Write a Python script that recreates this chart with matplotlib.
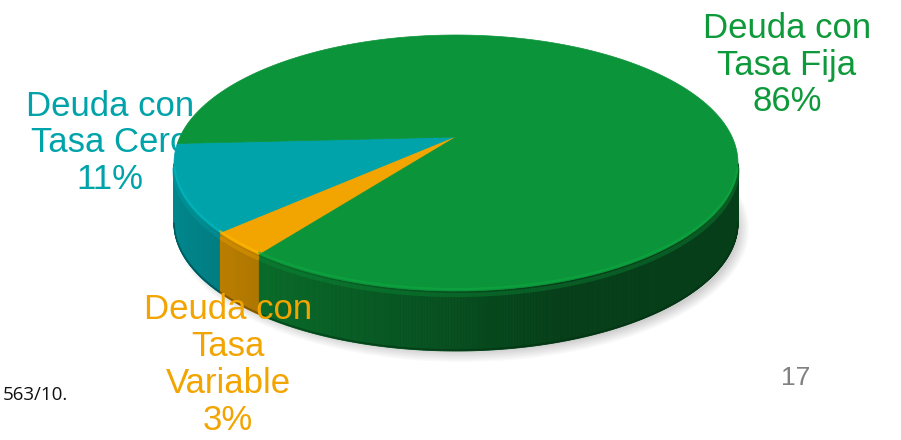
import numpy as np
import matplotlib.pyplot as plt
from matplotlib.patches import Polygon, Ellipse
from matplotlib.colors import to_rgb

# data
labels = ['Deuda con\nTasa Cero\n11%', 'Deuda con\nTasa\nVariable\n3%', 'Deuda con\nTasa Fija\n86%']
shares = [11, 3, 86]
colors = ['#00A3A9', '#F2A400', '#0B9439']
label_pos = [(110, 143), (228, 365), (787, 65)]

plt.rcParams['font.family'] = ['Liberation Sans', 'DejaVu Sans']

fig = plt.figure(figsize=(9.01, 4.40), dpi=100)
ax = fig.add_axes([0, 0, 1, 1])
ax.set_xlim(0, 901)
ax.set_ylim(440, 0)
ax.axis('off')

# pie geometry (pixels): screen ellipse of the top face, depth, vertex offset
cx, cy, a, b, h = 456, 163, 282, 128, 60
vy = 137                      # where the pie centre lands (perspective)
phi = np.arctanh((vy - cy) / b)
ch, sh = np.cosh(phi), np.sinh(phi)

def proj(theta):
    # projective map of unit circle angle -> ellipse point (keeps rays straight)
    t = np.radians(theta)
    d = sh * np.sin(t) + ch
    return np.cos(t) / d, (ch * np.sin(t) + sh) / d

def pt(theta):
    xp, yp = proj(theta)
    return cx + a * xp, cy + b * yp

def shade(c, f):
    r, g, bb = to_rgb(c)
    return (min(r * f, 1), min(g * f, 1), min(bb * f, 1))

def side_factor(x):
    u = np.clip((x - 180) / (560 - 180), 0, 1)
    return 0.82 - 0.40 * u ** 0.9

# angles: start at left and go downward
start = 177
fr = np.array(shares) / sum(shares) * 360
ends = start - np.cumsum(fr)
starts = np.concatenate([[start], ends[:-1]])

# soft shadow
for i in range(8):
    ax.add_patch(Ellipse((cx + 6, cy + h + 6), 2 * a + 10 - i * 3, 2 * b + 10 - i * 3,
                         fc='#000000', ec='none', alpha=0.025, zorder=1))

# side wall (front half, where projected y >= 0)
for s, e, c in zip(starts, ends, colors):
    th = np.linspace(s, e, int(abs(s - e) * 4) + 2)
    xp, yp = proj(th)
    th = th[yp >= 0]
    if len(th) < 2:
        continue
    for t0, t1 in zip(th[:-1], th[1:]):
        x0, y0 = pt(t0)
        x1, y1 = pt(t1)
        col = shade(c, side_factor(0.5 * (x0 + x1)))
        poly = [(x0, y0), (x1, y1), (x1, y1 + h), (x0, y0 + h)]
        ax.add_patch(Polygon(poly, closed=True, fc=col, ec=col, lw=0.6, zorder=2))
    xs, ys = pt(th)
    ax.plot(xs, ys + 4, color=shade(c, 1.0), lw=3, alpha=0.35, zorder=3, solid_capstyle='butt')
    ax.plot(xs, ys + h - 1, color=shade(c, 0.3), lw=1.2, alpha=0.5, zorder=3, solid_capstyle='butt')

# top surface
for s, e, c in zip(starts, ends, colors):
    th = np.linspace(s, e, 400)
    xs, ys = pt(th)
    poly = [(cx, vy)] + list(zip(xs, ys))
    ax.add_patch(Polygon(poly, closed=True, fc=c, ec=c, lw=0.5, zorder=4))
    # light bevel along the front rim
    xp, yp = proj(th)
    m = yp > 0.05
    if m.sum() > 1:
        ax.plot(xs[m], ys[m] - 2, color=shade(c, 1.15), lw=1.5, alpha=0.6, zorder=5)

# labels
for i, (lab, (x, y), c) in enumerate(zip(labels, label_pos, colors)):
    z = 0.5 if i == 0 else 6
    ax.text(x, y, lab, color=c if i != 2 else '#0E9A3B', fontsize=25, ha='center', va='center',
            linespacing=1.15, zorder=z)

ax.text(3, 395, '563/10.', fontsize=13.5, color='#111111', ha='left', va='center',
        family=['Open Sans', 'DejaVu Sans'])
ax.text(796, 378, '17', fontsize=19, color='#808080', ha='center', va='center')

fig.savefig('out.png', dpi=100)
